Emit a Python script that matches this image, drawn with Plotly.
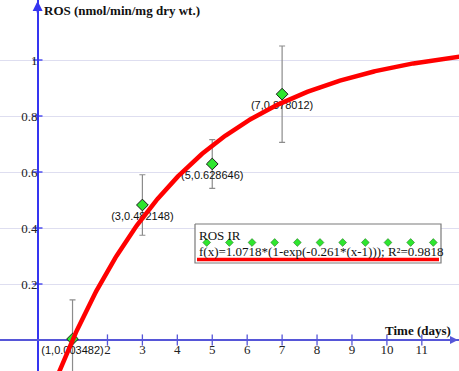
import numpy as np
import plotly.graph_objects as go

# ---- data ----
days = [1, 3, 5, 7]
ros = [0.003482, 0.482148, 0.628646, 0.878012]
ros_err = [0.14, 0.108, 0.087, 0.172]
fit_a, fit_b, fit_x0 = 1.0718, 0.261, 1
x_ticks = [2, 3, 4, 5, 6, 7, 8, 9, 10, 11]
y_ticks = [0.2, 0.4, 0.6, 0.8, 1.0]
y_ticktext = ["0.2", "0.4", "0.6", "0.8", "1"]
legend_title = "ROS IR"
legend_formula = "f(x)=1.0718*(1-exp(-0.261*(x-1))); R²=0.9818"
x_title = "Time (days)"
y_title = "ROS (nmol/min/mg dry wt.)"

W, H = 459, 371
XR = [-1.0765, 12.064]
YR = [-0.1107, 1.2143]
AX_BLUE = "#3535f0"
XAX_BLUE = "#5656d8"

labels = [f"({d},{v})" for d, v in zip(days, ros)]

xc = np.linspace(0.55, 12.2, 300)
yc = fit_a * (1 - np.exp(-fit_b * (xc - fit_x0)))

fig = go.Figure()

# axis tick marks (crossing)
fig.add_trace(go.Scatter(x=list(range(1, 12)), y=[0] * 11, mode="markers",
                         marker=dict(symbol="line-ns", size=8, line=dict(color=XAX_BLUE, width=1.3)),
                         hoverinfo="skip", showlegend=False))
fig.add_trace(go.Scatter(x=[0] * len(y_ticks), y=y_ticks, mode="markers",
                         marker=dict(symbol="line-ew", size=7, line=dict(color=AX_BLUE, width=1.3)),
                         hoverinfo="skip", showlegend=False))

# data points with error bars and labels
fig.add_trace(go.Scatter(
    x=days, y=ros, mode="markers+text", text=labels, textposition="bottom center",
    textfont=dict(family="Liberation Sans, Arial, sans-serif", size=11, color="#111111"),
    marker=dict(symbol="diamond", size=9, color="#2ee62e", line=dict(color="#1a1a1a", width=1)),
    error_y=dict(type="data", array=ros_err, visible=True, color="#8c8c8c", thickness=1.2, width=3),
    showlegend=False))

# fitted curve
fig.add_trace(go.Scatter(x=xc, y=yc, mode="lines", line=dict(color="#ff0000", width=4.5),
                         showlegend=False, hoverinfo="skip"))

# ---- legend box on pixel overlay axes ----
bx0, bx1, by0, by1 = 195, 441, 224, 263
fig.add_trace(go.Scatter(x=[bx0, bx1, bx1, bx0, bx0], y=[by0, by0, by1, by1, by0],
                         mode="lines", fill="toself", fillcolor="white",
                         line=dict(color="#7a7a7a", width=1.2),
                         xaxis="x2", yaxis="y2", showlegend=False, hoverinfo="skip"))
dx = [206.7 + i * 22.66 for i in range(11)]
fig.add_trace(go.Scatter(x=dx, y=[242.5] * 11, mode="markers",
                         marker=dict(symbol="diamond", size=6, color="#2ee62e",
                                     line=dict(color="#2a7a2a", width=0.6)),
                         xaxis="x2", yaxis="y2", showlegend=False, hoverinfo="skip"))
fig.add_trace(go.Scatter(x=[197, 439], y=[259.5, 259.5], mode="lines",
                         line=dict(color="#ff0000", width=3.5),
                         xaxis="x2", yaxis="y2", showlegend=False, hoverinfo="skip"))

serif = "Liberation Serif, Times New Roman, serif"
fig.add_annotation(xref="x2", yref="y2", x=197, y=235, text=legend_title, showarrow=False,
                   xanchor="left", yanchor="middle", font=dict(family=serif, size=13, color="#111"))
fig.add_annotation(xref="x2", yref="y2", x=197, y=251.5, text=legend_formula, showarrow=False,
                   xanchor="left", yanchor="middle", font=dict(family=serif, size=13, color="#111"))

# axis titles
fig.add_annotation(xref="x2", yref="y2", x=42, y=10, text=f"<b>{y_title}</b>", showarrow=False,
                   xanchor="left", yanchor="middle", font=dict(family=serif, size=13, color="#111"))
fig.add_annotation(xref="x2", yref="y2", x=453, y=330, text=f"<b>{x_title}</b>", showarrow=False,
                   xanchor="right", yanchor="middle", font=dict(family=serif, size=13, color="#111"))

# axis arrows
fig.add_annotation(xref="x2", yref="y2", x=37.6, y=1, ax=37.6, ay=14, axref="x2", ayref="y2",
                   text="", showarrow=True, arrowhead=2, arrowsize=1, arrowwidth=2, arrowcolor=AX_BLUE)
fig.add_annotation(xref="x2", yref="y2", x=458, y=340, ax=446, ay=340, axref="x2", ayref="y2",
                   text="", showarrow=True, arrowhead=2, arrowsize=1, arrowwidth=1.6, arrowcolor=XAX_BLUE)

tickfont = dict(family=serif, size=13, color="#222")
fig.update_layout(
    width=W, height=H, margin=dict(l=0, r=0, t=0, b=0),
    paper_bgcolor="white", plot_bgcolor="white",
    xaxis=dict(range=XR, showgrid=False, zeroline=True, zerolinecolor=AX_BLUE, zerolinewidth=2.2,
               showline=False, tickvals=x_ticks, ticks="", tickfont=tickfont,
               anchor="free", position=(0 - YR[0]) / (YR[1] - YR[0]), fixedrange=True),
    yaxis=dict(range=YR, showgrid=True, gridcolor="#dedef0", gridwidth=1, zeroline=True,
               zerolinecolor=XAX_BLUE, zerolinewidth=1.6, showline=False,
               tickvals=y_ticks, ticktext=y_ticktext, ticks="", tickfont=tickfont,
               anchor="free", position=(0 - XR[0]) / (XR[1] - XR[0]), fixedrange=True),
    xaxis2=dict(range=[0, W], overlaying="x", anchor="y2", visible=False, fixedrange=True),
    yaxis2=dict(range=[H, 0], overlaying="y", anchor="x2", visible=False, fixedrange=True),
    showlegend=False,
)

fig.write_html("out.html", config={"displayModeBar": False},
               post_script="document.body.style.margin='0';document.body.style.overflow='hidden';")
